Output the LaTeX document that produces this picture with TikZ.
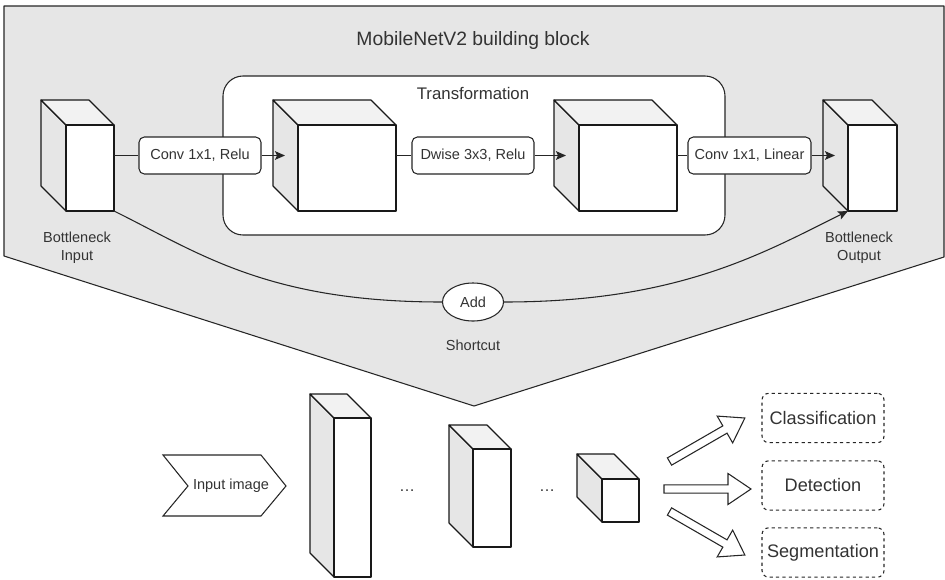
\documentclass[tikz,border=0pt]{standalone}
\usepackage{fontspec}
\setmainfont{Liberation Sans}
\usetikzlibrary{shapes.geometric, fit, calc, arrows.meta}
\definecolor{bggray}{HTML}{E6E6E6}
\definecolor{sidegray}{HTML}{E6E6E6}
\definecolor{topgray}{HTML}{F2F2F2}
\definecolor{txt}{HTML}{333333}
\tikzset{
  conn/.style={draw=black!85, line width=0.8pt},
  arr/.style={conn, -{Stealth[length=7.5pt,width=6.5pt,inset=1.5pt]}},
  cubeline/.style={draw=black!90, line width=0.85pt, line join=round},
  cubefront/.style={cubeline, fill=white, inner sep=0pt, outer sep=0pt},
  opbox/.style={draw=black!85, line width=0.8pt, fill=white, rounded corners=4pt,
    minimum width=91.5pt, minimum height=27.75pt, inner sep=0pt, text=txt,
    font=\fontsize{10.9}{13.5}\selectfont},
  lbl/.style={text=txt, align=center, font=\fontsize{10.9}{13.5}\selectfont, inner sep=0pt},
  taskbox/.style={draw=black!85, line width=0.8pt, dash pattern=on 2.4pt off 2.4pt,
    rounded corners=5pt, minimum width=91.5pt, minimum height=37pt, inner sep=0pt,
    text=txt, font=\fontsize{13.6}{16}\selectfont},
  blockarr/.style={draw=black!85, line width=0.8pt, fill=white, line join=miter},
}
\newcommand{\mycube}[6]{%
  \coordinate (#1nw) at (#2,#3);
  \coordinate (#1se) at (#4,#5);
  \filldraw[cubeline, fill=sidegray] (#2,#3) -- ++(-#6,-#6) -- ++(0,#5-#3) -- (#2,#5) -- cycle;
  \filldraw[cubeline, fill=topgray] (#2,#3) -- ++(-#6,-#6) -- ++(#4-#2,0) -- (#4,#3) -- cycle;
  \node[cubefront, fit=(#1nw)(#1se)] (#1) {};
}
\newcommand{\blockarrow}[3]{%
  \begin{scope}[shift={(#1,#2)}, rotate=#3]
    \path[blockarr] (0,-4.2) -- (64,-4.2) -- (64,-15.5) -- (87,0) -- (64,15.5) -- (64,4.2) -- (0,4.2) -- cycle;
  \end{scope}
}
\begin{document}
\begin{tikzpicture}[x=0.75pt, y=-0.75pt]
\useasboundingbox (0,0) rectangle (945,579);

% gray building-block panel
\path[fill=bggray, draw=black!85, line width=0.8pt, line join=round]
  (4,6) -- (944,6) -- (944,257) -- (474,406) -- (4,256) -- cycle;
\node[text=txt, font=\fontsize{14.5}{17}\selectfont, inner sep=0pt] (title) at (473,40) {MobileNetV2 building block};

% transformation box
\path[fill=white, draw=black!85, line width=0.8pt, rounded corners=15pt] (223,76) rectangle (725,235);
\node[text=txt, font=\fontsize{12.6}{15}\selectfont, inner sep=0pt] (trans) at (473,93) {Transformation};

% cubes
\mycube{cin}{66}{125}{114}{211}{25}
\mycube{tone}{298}{125}{396}{211}{25}
\mycube{ttwo}{579}{125}{677}{211}{25}
\mycube{cout}{848}{125}{897}{211}{25}

% operation boxes
\node[opbox] (op1) at (200,155.5) {Conv 1x1, Relu};
\node[opbox] (op2) at (473,155.5) {Dwise 3x3, Relu};
\node[opbox, minimum width=92.25pt] (op3) at (749.5,155.5) {Conv 1x1, Linear};

% connectors
\draw[conn] (op1.west -| cin.east) -- (op1.west);
\draw[arr] (op1.east) -- ($(op1.east -| tone.west)+(-13,0)$);
\draw[conn] (op2.west -| tone.east) -- (op2.west);
\draw[arr] (op2.east) -- ($(op2.east -| ttwo.west)+(-13,0)$);
\draw[conn] (op3.west -| ttwo.east) -- (op3.west);
\draw[arr] (op3.east) -- ($(op3.east -| cout.west)+(-13,0)$);

% labels
\node[lbl] (inlbl) at (77,248) {Bottleneck\\Input};
\node[lbl] (outlbl) at (859,248) {Bottleneck\\Output};

% shortcut
\node[draw=black!85, line width=0.8pt, fill=white, ellipse, minimum width=45.75pt, minimum height=28.5pt, inner sep=0pt,
  text=txt, font=\fontsize{10.9}{13.5}\selectfont] (add) at (473,302) {Add};
\draw[conn] (cin.south east) .. controls +(85,42) and +(-175,0) .. (add.west);
\draw[arr] (add.east) .. controls +(175,0) and +(-85,42) .. (cout.south west);
\node[lbl] (short) at (473,345) {Shortcut};

% bottom: input image
\path[draw=black!85, line width=0.8pt, fill=white, line join=miter]
  (163,455) -- (261,455) -- (286,486) -- (261,516) -- (163,516) -- (188,486) -- cycle;
\node[lbl] (inimg) at (231,486) {Input image};

% network cubes
\mycube{bone}{334}{418}{371}{577}{24}
\mycube{btwo}{473}{449}{511}{547}{24}
\mycube{bthree}{602}{479}{639}{522}{25}
\node[lbl, font=\fontsize{12}{14}\selectfont] (dotsA) at (407,491) {…};
\node[lbl, font=\fontsize{12}{14}\selectfont] (dotsB) at (547,491) {…};

% output arrows
\blockarrow{669.5}{461.5}{30}
\blockarrow{664}{489}{0}
\blockarrow{669.5}{511.5}{-30}

% tasks
\node[taskbox] (cls) at (823,418) {Classification};
\node[taskbox] (det) at (823,485.5) {Detection};
\node[taskbox] (seg) at (823,552.5) {Segmentation};
\end{tikzpicture}
\end{document}
